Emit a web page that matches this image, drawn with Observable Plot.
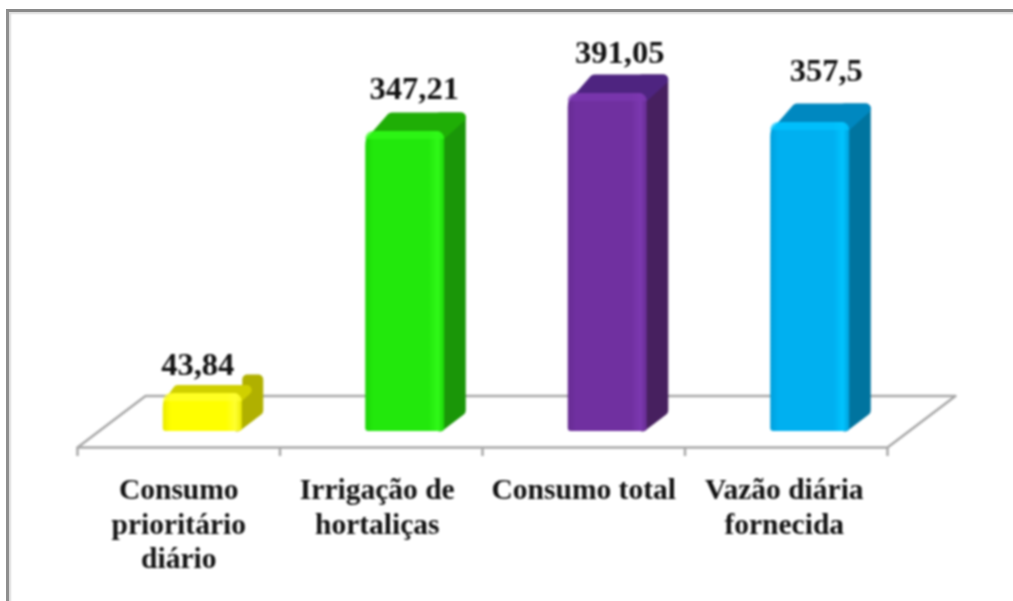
<!DOCTYPE html>
<html lang="pt">
<head>
<meta charset="utf-8">
<script src="https://cdn.jsdelivr.net/npm/d3@7"></script>
<script src="https://cdn.jsdelivr.net/npm/@observablehq/plot@0.6"></script>
<style>
  html, body { margin: 0; padding: 0; background: #fff; width: 1013px; height: 601px; overflow: hidden; }
  #frame { position: absolute; left: 6px; top: 9px; width: 1007px; height: 592px; box-sizing: border-box;
    border-top: 3px solid #8a8a8a; border-left: 3px solid #8f8f8f;
    box-shadow: inset 2px 2px 2px #dcdcdc; }
  #chart { position: absolute; left: 0; top: 0; }
  #chart svg { filter: blur(0.85px); }
</style>
</head>
<body>
<div id="frame"></div>
<div id="chart"></div>
<script>
const categories = ["Consumo\nprioritário\ndiário", "Irrigação de\nhortaliças", "Consumo total", "Vazão diária\nfornecida"];
const values = [43.84, 347.21, 391.05, 357.5];
const valueLabels = ["43,84", "347,21", "391,05", "357,5"];
const frontColors = ["#ffff00", "#22e80c", "#7030a0", "#00b0f0"];
const lightColors = ["#ffff30", "#30fa18", "#7c38b0", "#00c4ff"];
const edgeColors = ["#eaea00", "#1cd408", "#662c92", "#009fdc"];
const topColors = ["#d0d000", "#1fae06", "#4e2480", "#0088c0"];
const sideColors = ["#b0b000", "#1a9608", "#47205f", "#00749f"];
const capShare = [0.45, 1, 1, 1];
const labelDx = [-5, 9, 12, 16];
const labelDy = [-19, -32, -31, -41];
const categoryDx = [0, -4, 0, -2];

const pxX = 4 / 810, pxY = 391.05 / 338;
const floorFront = -16 * pxY, floorBack = 35.5 * pxY, floorSlant = 68 * pxX;
const depthX = 21 * pxX, depthTop = 19 * pxY, depthBottom = 16 * pxY;
const barOffset = 24 * pxX, barHalf = 39.5 * pxX;
const tickLow = -25 * pxY;
const round = 5;
const bandHeight = 8 * pxY;

const bars = values.map((v, i) => {
  const c = i + 0.5 + barOffset;
  return {i, v, x1: c - barHalf, x2: c + barHalf};
});
const insetX = round * pxX, insetY = round * pxY;

function poly(points, fill) {
  return Plot.line(points, {
    x: "0", y: "1", fill, stroke: fill, strokeWidth: round * 2,
    strokeLinejoin: "round", curve: "linear-closed"
  });
}

function sideFace({x2, v, i}) {
  const notch = capShare[i] < 1;
  return poly([
    [x2 - insetX, insetY],
    [x2 + depthX - insetX, depthBottom + insetY],
    [x2 + depthX - insetX, v + depthTop - insetY],
    [notch ? x2 + insetX : x2 - insetX, v + depthTop - insetY],
    [notch ? x2 + insetX : x2 - insetX, v - insetY]
  ], sideColors[i]);
}
function topFace({x1, x2, v, i}) {
  const d = capShare[i];
  return poly([
    [x1 + insetX, v - 2 * insetY],
    [x1 + depthX * d + insetX, v + depthTop * d - insetY],
    [x2 + depthX * d - insetX, v + depthTop * d - insetY],
    [x2 - insetX, v - insetY]
  ], topColors[i]);
}

const marks = [
  Plot.line(
    [[0, floorFront], [floorSlant, floorBack], [4 + floorSlant, floorBack], [4, floorFront], [0, floorFront]],
    {x: "0", y: "1", stroke: "#a8a8a8", strokeWidth: 2.5}
  ),
  Plot.ruleX(d3.range(0, 5), {y1: floorFront, y2: tickLow, stroke: "#a8a8a8", strokeWidth: 2.5}),
  ...bars.map(sideFace),
  ...bars.map(topFace),
  ...bars.map(b => Plot.rect([b], {
    x1: "x1", x2: "x2", y1: 0, y2: "v",
    fill: `url(#face${b.i})`,
    rx1y1: 3, rx2y1: 3, rx1y2: 14, rx2y2: 8
  })),
  ...bars.map(b => Plot.rect([b], {
    x1: "x1", x2: "x2", y1: d => d.v - bandHeight, y2: "v",
    fill: lightColors[b.i], fillOpacity: 0.7,
    rx1y2: 8, rx2y2: 8
  })),
  ...bars.map(b => Plot.text([b], {
    x: d => d.i + 0.5 + barOffset, y: "v",
    text: d => valueLabels[d.i],
    dx: labelDx[b.i], dy: labelDy[b.i],
    fontFamily: "Liberation Serif", fontWeight: "bold", fontSize: 32.5, fill: "#111",
    lineAnchor: "bottom"
  })),
  ...categories.map((c, i) => Plot.text([c], {
    x: () => i + 0.5, y: () => 0,
    text: d => d,
    dx: categoryDx[i], dy: 43,
    fontFamily: "Liberation Serif", fontWeight: "bold", fontSize: 29.5, fill: "#111",
    lineHeight: 1.17, lineAnchor: "top", textAnchor: "middle"
  })),
  () => {
    const defs = d3.create("svg:defs");
    frontColors.forEach((col, i) => {
      const g = defs.append("linearGradient").attr("id", `face${i}`).attr("x1", 0).attr("x2", 1).attr("y1", 0).attr("y2", 0);
      [[0, edgeColors[i]], [0.1, col], [0.8, col], [0.92, lightColors[i]], [1, edgeColors[i]]]
        .forEach(([o, c]) => g.append("stop").attr("offset", o).attr("stop-color", c));
    });
    return defs.node();
  }
];

const chart = Plot.plot({
  width: 1013, height: 601,
  marginTop: 0, marginBottom: 0, marginLeft: 0, marginRight: 0,
  x: {type: "linear", domain: [0, 4], range: [77, 887], axis: null},
  y: {type: "linear", domain: [0, 391.05], range: [431, 93], axis: null},
  style: {background: "transparent", overflow: "visible"},
  marks
});
document.getElementById("chart").append(chart);
</script>
</body>
</html>
